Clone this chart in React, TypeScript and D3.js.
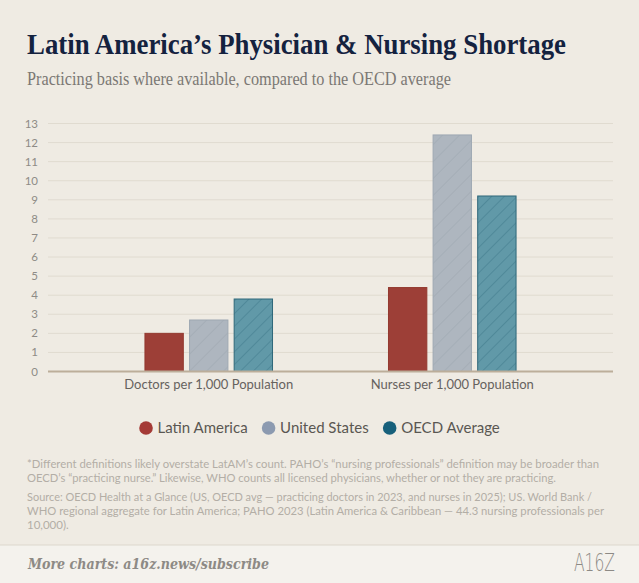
import { useEffect, useRef } from "react";
import * as d3 from "d3";

const W = 639;
const H = 583;

const categories = ["Doctors per 1,000 Population", "Nurses per 1,000 Population"];
const series = ["Latin America", "United States", "OECD Average"];
const latinAmerica = [2.0, 4.4];
const unitedStates = [2.7, 12.4];
const oecdAverage = [3.8, 9.2];
const yTicks = [0, 1, 2, 3, 4, 5, 6, 7, 8, 9, 10, 11, 12, 13];

const footnotes = [
  "*Different definitions likely overstate LatAM\u2019s count. PAHO\u2019s \u201cnursing professionals\u201d definition may be broader than",
  "OECD\u2019s \u201cpracticing nurse.\u201d Likewise, WHO counts all licensed physicians, whether or not they are practicing.",
];
const sources = [
  "Source: OECD Health at a Glance (US, OECD avg \u2014 practicing doctors in 2023, and nurses in 2025); US. World Bank /",
  "WHO regional aggregate for Latin America; PAHO 2023 (Latin America & Caribbean \u2014 44.3 nursing professionals per",
  "10,000).",
];

const barFill = ["#9d3f37", "#aeb6bf", "#6199a8"];
const barStroke = ["#93392f", "#9ea8b3", "#2f687a"];
const hatchStroke = [null, "#9ca6b0", "#3e7a8b"];
const legendColor = ["#a43a36", "#8c9ab0", "#17607b"];

export default function App() {
  const ref = useRef<SVGSVGElement>(null);

  useEffect(() => {
    document.body.style.margin = "0";
    const svg = d3.select(ref.current);
    svg.selectAll("*").remove();

    const sans = "Lato, 'Noto Sans', sans-serif";
    const serif = "'Liberation Serif', 'DejaVu Serif', serif";

    const defs = svg.append("defs");
    series.forEach((_, i) => {
      if (!hatchStroke[i]) return;
      const p = defs
        .append("pattern")
        .attr("id", `hatch${i}`)
        .attr("patternUnits", "userSpaceOnUse")
        .attr("width", i === 1 ? 12 : 9)
        .attr("height", 12)
        .attr("patternTransform", "rotate(45)");
      p.append("rect").attr("width", 12).attr("height", 12).attr("fill", barFill[i]);
      p.append("line")
        .attr("x1", 0).attr("y1", 0).attr("x2", 0).attr("y2", 12)
        .attr("stroke", hatchStroke[i]!)
        .attr("stroke-width", 1);
    });

    svg.append("rect").attr("width", W).attr("height", H).attr("fill", "#efebe3");

    // title block
    svg.append("text")
      .attr("x", 27).attr("y", 54)
      .attr("font-family", serif).attr("font-weight", 700).attr("font-size", 30)
      .attr("fill", "#14223f")
      .attr("textLength", 539).attr("lengthAdjust", "spacingAndGlyphs")
      .text("Latin America\u2019s Physician & Nursing Shortage");
    svg.append("text")
      .attr("x", 27).attr("y", 85)
      .attr("font-family", serif).attr("font-size", 18)
      .attr("fill", "#7b7874")
      .attr("textLength", 424).attr("lengthAdjust", "spacingAndGlyphs")
      .text("Practicing basis where available, compared to the OECD average");

    // scales
    const x0 = d3.scaleBand<string>().domain(categories).range([48, 613]).paddingInner(0).paddingOuter(0.16);
    const x1 = d3.scaleBand<string>().domain(series).range([0, x0.bandwidth()]).paddingInner(0.14).paddingOuter(1.3);
    const y = d3.scaleLinear().domain([0, 13]).range([371.5, 123.5]);

    const grid = svg.append("g");
    grid.selectAll("line")
      .data(yTicks.filter((t) => t > 0))
      .join("line")
      .attr("x1", 48).attr("x2", 613)
      .attr("y1", (d) => y(d)).attr("y2", (d) => y(d))
      .attr("stroke", "#e0dbd0").attr("stroke-width", 1);

    svg.append("g").selectAll("text")
      .data(yTicks)
      .join("text")
      .attr("x", 38).attr("y", (d) => y(d)).attr("dy", "0.35em")
      .attr("text-anchor", "end")
      .attr("font-family", sans).attr("font-size", 11.5)
      .attr("fill", "#8e8b86")
      .text((d) => d);

    const values = [latinAmerica, unitedStates, oecdAverage];
    const rows = categories.flatMap((c, ci) =>
      series.map((s, si) => ({ c, s, si, v: values[si][ci] }))
    );

    svg.append("g").selectAll("rect")
      .data(rows)
      .join("rect")
      .attr("x", (d) => x0(d.c)! + x1(d.s)!)
      .attr("y", (d) => y(d.v))
      .attr("width", x1.bandwidth())
      .attr("height", (d) => y(0) - y(d.v))
      .attr("fill", (d) => (hatchStroke[d.si] ? `url(#hatch${d.si})` : barFill[d.si]))
      .attr("stroke", (d) => barStroke[d.si])
      .attr("stroke-width", 1);

    svg.append("line")
      .attr("x1", 48).attr("x2", 613)
      .attr("y1", y(0)).attr("y2", y(0))
      .attr("stroke", "#bcae9a").attr("stroke-width", 2);

    svg.append("g").selectAll("text")
      .data(categories)
      .join("text")
      .attr("x", (d) => x0(d)! + x0.bandwidth() / 2)
      .attr("y", 388.5)
      .attr("text-anchor", "middle")
      .attr("font-family", sans).attr("font-size", 13)
      .attr("fill", "#66625e")
      .text((d) => d);

    // legend
    const lg = svg.append("g");
    const items = lg.selectAll("g").data(series).join("g");
    items.append("circle").attr("r", 6.8).attr("fill", (_, i) => legendColor[i]);
    items.append("text")
      .attr("x", 11.5).attr("dy", "0.35em")
      .attr("font-family", sans).attr("font-size", 15)
      .attr("fill", "#5a5752")
      .text((d) => d);
    let cx = 0;
    const xs: number[] = [];
    items.each(function () {
      const t = d3.select(this).select("text").node() as SVGTextElement;
      xs.push(cx);
      cx += 11.5 + t.getComputedTextLength() + 21;
    });
    const total = cx - 21 + 6.8;
    const start = W / 2 - total / 2 + 6.8;
    items.attr("transform", (_, i) => `translate(${start + xs[i]},428)`);

    // notes
    const noteW1 = [572, 529];
    const noteW2 = [565, 577, 0];
    const note = (lines: string[], widths: number[], y0: number) =>
      svg.append("g").selectAll("text")
        .data(lines)
        .join("text")
        .attr("x", 27).attr("y", (_, i) => y0 + i * 14)
        .attr("font-family", sans).attr("font-size", 11.5)
        .attr("fill", "#b3aea6")
        .each(function (_, i) {
          if (widths[i]) d3.select(this).attr("textLength", widths[i]).attr("lengthAdjust", "spacingAndGlyphs");
        })
        .text((d) => d);
    note(footnotes, noteW1, 468);
    note(sources, noteW2, 501);

    // footer
    svg.append("rect").attr("x", 0).attr("y", 545).attr("width", W).attr("height", H - 545).attr("fill", "#f4f2ed");
    svg.append("line").attr("x1", 0).attr("x2", W).attr("y1", 545).attr("y2", 545).attr("stroke", "#dcd7cd");
    svg.append("text")
      .attr("x", 28).attr("y", 569)
      .attr("font-family", "'DejaVu Serif', serif").attr("font-style", "italic").attr("font-weight", 700)
      .attr("font-size", 14.5).attr("fill", "#8d8a85")
      .attr("textLength", 241).attr("lengthAdjust", "spacingAndGlyphs")
      .text("More charts: a16z.news/subscribe");
    svg.append("text")
      .attr("x", 574).attr("y", 571)
      .attr("font-family", "'DejaVu Sans', sans-serif").attr("font-weight", 300)
      .attr("font-size", 25).attr("fill", "#8d8a85")
      .attr("textLength", 41).attr("lengthAdjust", "spacingAndGlyphs")
      .text("A16Z");
  }, []);

  return <svg ref={ref} width={W} height={H} style={{ display: "block" }} />;
}
